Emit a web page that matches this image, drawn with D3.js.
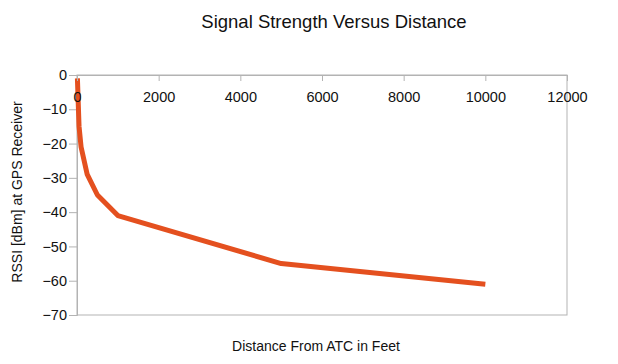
<!DOCTYPE html>
<html><head><meta charset="utf-8">
<script src="https://cdn.jsdelivr.net/npm/d3@7"></script>
<style>body{margin:0;background:#fff;}svg{display:block;font-family:"Liberation Sans",Arial,sans-serif;}</style>
</head><body>
<script>
const distances = [10, 50, 100, 250, 500, 1000, 5000, 10000];
const rssi = [-1, -15, -21, -29, -35, -41, -55, -61];
const xTicks = [0, 2000, 4000, 6000, 8000, 10000, 12000];
const yTicks = [0, -10, -20, -30, -40, -50, -60, -70];
const title = "Signal Strength Versus Distance";
const xTitle = "Distance From ATC in Feet";
const yTitle = "RSSI [dBm] at GPS Receiver";

const W = 618, H = 364;
const m = {left: 77, right: 51, top: 75, bottom: 49};
const svg = d3.select("body").append("svg").attr("width", W).attr("height", H);
const x = d3.scaleLinear().domain([0, 12000]).range([m.left, W - m.right]);
const y = d3.scaleLinear().domain([0, -70]).range([m.top, H - m.bottom]);
const grey = "#b3b3b3";

// frame
svg.append("rect").attr("x", x(0)).attr("y", y(0)).attr("width", x(12000) - x(0)).attr("height", y(-70) - y(0))
  .attr("fill", "none").attr("stroke", grey).attr("stroke-width", 1);

// y axis
const ya = svg.append("g").attr("transform", `translate(${x(0)},0)`)
  .call(d3.axisLeft(y).tickValues(yTicks).tickSize(8).tickPadding(2).tickFormat(d3.format("d")));
ya.select(".domain").attr("stroke", grey);
ya.selectAll(".tick line").attr("stroke", grey);
ya.selectAll("text").attr("fill", "#111").style("font-size", "14.5px");

// line
const pts = distances.map((d, i) => [d, rssi[i]]);
svg.append("path").datum(pts)
  .attr("fill", "none").attr("stroke", "#e4501f").attr("stroke-width", 5).attr("stroke-linejoin", "round")
  .attr("d", d3.line().x(d => x(d[0])).y(d => y(d[1])));

// x axis at top (y=0), drawn above the line
const xa = svg.append("g").attr("transform", `translate(0,${y(0)})`)
  .call(d3.axisBottom(x).tickValues(xTicks).tickSize(6).tickPadding(11).tickFormat(d3.format("d")));
xa.select(".domain").attr("stroke", grey);
xa.selectAll(".tick line").attr("stroke", grey);
xa.selectAll("text").attr("fill", "#111").style("font-size", "14.5px");

// titles
svg.append("text").attr("x", 334).attr("y", 28).attr("text-anchor", "middle").style("font-size", "18.5px").attr("fill", "#111").text(title);
svg.append("text").attr("x", 316).attr("y", 351).attr("text-anchor", "middle").style("font-size", "14px").attr("fill", "#111").text(xTitle);
svg.append("text").attr("transform", "translate(22,192) rotate(-90)").attr("text-anchor", "middle").style("font-size", "14px").attr("fill", "#111").text(yTitle);
</script>
</body></html>
